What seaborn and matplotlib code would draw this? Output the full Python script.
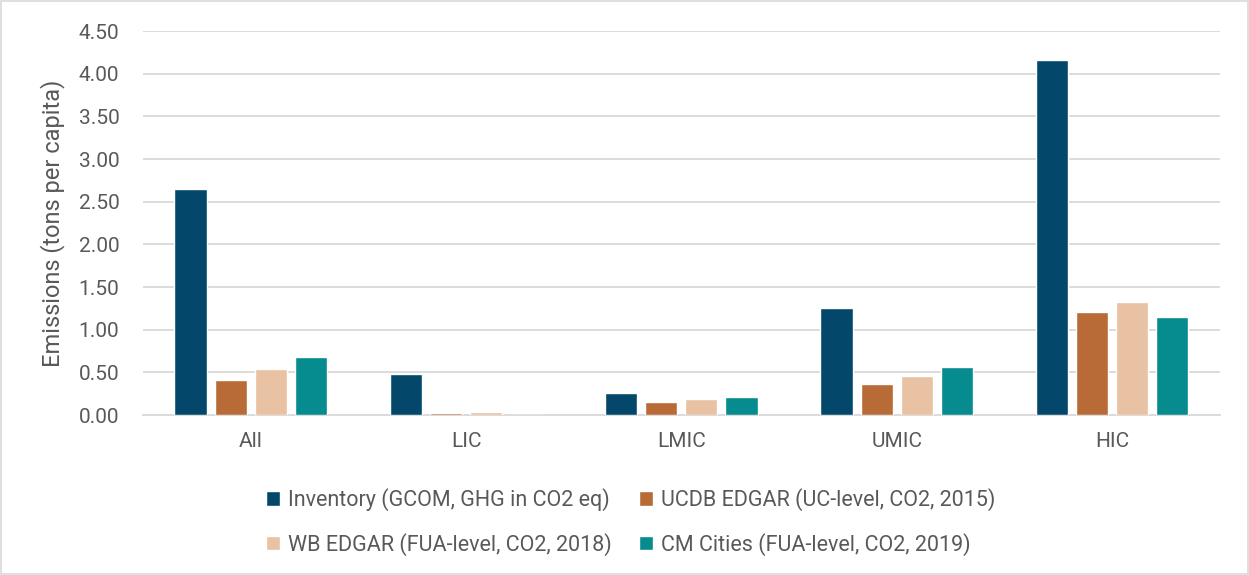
import matplotlib
matplotlib.use("Agg")
import matplotlib.pyplot as plt
import seaborn as sns
import pandas as pd
from matplotlib.patches import Rectangle

categories = ["All", "LIC", "LMIC", "UMIC", "HIC"]
series = [
    "Inventory (GCOM, GHG in CO2 eq)",
    "UCDB EDGAR (UC-level, CO2, 2015)",
    "WB EDGAR (FUA-level, CO2, 2018)",
    "CM Cities (FUA-level, CO2, 2019)",
]
inventory = [2.65, 0.48, 0.26, 1.25, 4.16]
ucdb = [0.41, 0.03, 0.15, 0.37, 1.21]
wb = [0.54, 0.04, 0.19, 0.46, 1.32]
cm = [0.68, 0.00, 0.21, 0.56, 1.15]
colors = ["#03476A", "#B86B37", "#E8C2A2", "#068B8E"]

rows = []
for s, vals in zip(series, [inventory, ucdb, wb, cm]):
    for c, v in zip(categories, vals):
        rows.append({"cat": c, "series": s, "value": v})
df = pd.DataFrame(rows)

sns.set_theme(style="white")
plt.rcParams["font.family"] = ["Roboto", "DejaVu Sans"]
text_color = "#595959"

fig = plt.figure(figsize=(12.49, 5.75), dpi=100)
ax = fig.add_axes([0.1145, 0.278, 0.862, 0.668])
sns.barplot(data=df, x="cat", y="value", hue="series", order=categories,
            hue_order=series, palette=colors, width=0.745, gap=0.2,
            saturation=1, ax=ax, legend=True)
for p in ax.patches:
    p.set_zorder(3)

ax.set_ylim(0, 4.5)
ax.set_yticks([i * 0.5 for i in range(10)])
ax.set_yticklabels([f"{i*0.5:.2f}" for i in range(10)])
ax.yaxis.grid(True, color="#D9D9D9", linewidth=1.3)
ax.set_axisbelow(True)
for sp in ["top", "right", "left"]:
    ax.spines[sp].set_visible(False)
ax.spines["bottom"].set_color("#D9D9D9")
ax.spines["bottom"].set_linewidth(1.3)
ax.spines["bottom"].set_zorder(0.5)
ax.tick_params(axis="both", labelsize=15, colors=text_color, length=0)
ax.tick_params(axis="y", pad=17)
ax.tick_params(axis="x", pad=12)
ax.set_xlabel("")
ax.set_ylabel("Emissions (tons per capita)", fontsize=17, color=text_color, labelpad=10)

handles, labels = ax.get_legend_handles_labels()
ax.legend_.remove()
order = [0, 2, 1, 3]
leg = fig.legend([handles[i] for i in order], [labels[i] for i in order],
                 loc="center", bbox_to_anchor=(0.505, 0.092), ncol=2,
                 frameon=False, fontsize=15.5, handlelength=0.65, handleheight=0.65,
                 handletextpad=0.35, columnspacing=1.3, labelspacing=1.0)
for t in leg.get_texts():
    t.set_color(text_color)

fig.patches.append(Rectangle((0.001, 0.001), 0.998, 0.998, transform=fig.transFigure,
                             fill=False, edgecolor="#D9D9D9", linewidth=1.2))
fig.savefig("out.png", dpi=100)
